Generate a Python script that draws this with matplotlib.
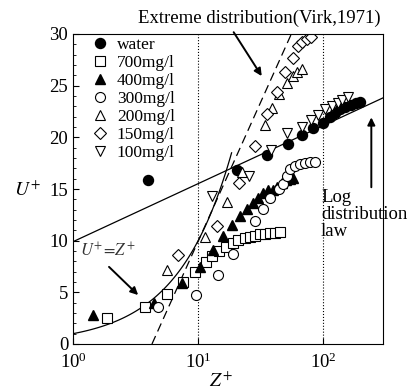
import numpy as np
import matplotlib
matplotlib.use('Agg')
import matplotlib.pyplot as plt
from matplotlib.ticker import MultipleLocator, NullLocator, LogLocator

plt.rcParams['font.family'] = ['Liberation Serif', 'DejaVu Serif']
plt.rcParams['mathtext.fontset'] = 'stix'
plt.rcParams['font.size'] = 13

# data
water_z = [4.0, 20.5, 35.7, 52, 68, 83, 100, 113, 124, 136, 150, 165, 181, 198]
water_u = [15.9, 16.8, 18.3, 19.4, 20.2, 20.9, 21.4, 22.0, 22.4, 22.7, 22.9, 23.1, 23.3, 23.4]

c700_z = [1.87, 3.77, 5.65, 7.6, 9.5, 11.5, 13.0, 14.8, 16.6, 19, 21, 23.5, 26, 28.5, 31, 34, 37.5, 41, 45]
c700_u = [2.5, 3.6, 4.8, 6.0, 7.0, 7.9, 8.5, 9.0, 9.4, 9.8, 10.1, 10.3, 10.4, 10.5, 10.6, 10.6, 10.7, 10.7, 10.8]

c400_z = [1.45, 4.4, 7.4, 10.4, 13.2, 15.9, 18.8, 21.7, 24.6, 27.3, 30, 33, 36, 39.5, 43, 46.5, 50, 54, 57]
c400_u = [2.8, 4.0, 5.9, 7.5, 9.1, 10.5, 11.5, 12.4, 13.1, 13.6, 14.1, 14.6, 14.9, 14.9, 15.2, 15.6, 15.9, 16.0, 16.1]

c300_z = [4.8, 9.6, 14.5, 19.1, 28.5, 33, 37.7, 44, 48, 51, 54.5, 59.5, 65, 71.6, 78, 86]
c300_u = [3.6, 4.7, 6.7, 8.7, 11.9, 13.1, 14.1, 15.0, 15.5, 16.3, 16.9, 17.2, 17.4, 17.5, 17.6, 17.6]

c200_z = [5.65, 11.4, 17.1, 22.5, 34, 39, 44, 51, 57, 62, 68]
c200_u = [7.2, 10.4, 13.7, 16.6, 21.2, 22.8, 24.2, 25.3, 25.9, 26.3, 26.6]

c150_z = [6.9, 14.1, 21.3, 28.5, 35.5, 43, 49.5, 57, 63, 68, 74, 80]
c150_u = [8.6, 11.4, 15.6, 19.2, 22.3, 24.4, 26.3, 27.7, 28.8, 29.2, 29.5, 29.7]

c100_z = [12.9, 25.5, 38, 51.5, 67, 80, 91, 103, 118, 130, 142, 158]
c100_u = [14.3, 16.3, 18.8, 20.4, 21.0, 21.7, 22.2, 22.7, 23.0, 23.3, 23.6, 23.9]

# reference laws
log_a, log_b = 2.44, 9.9        # log distribution law
virk_a, virk_b = 11.7, -17.0    # Virk 1971

fig = plt.figure(figsize=(4.15, 3.92), dpi=100)
ax = fig.add_axes([73/415, 1-344/392, 310/415, 310/392])

z = np.logspace(0, np.log10(300), 200)
ax.plot(z, log_a*np.log(z) + log_b, color='k', lw=0.9)
zl = np.logspace(0, np.log10(18.5), 100)
ax.plot(zl, zl, color='k', lw=0.9)
zv = np.logspace(np.log10(np.exp(-virk_b/virk_a)), np.log10(np.exp((30-virk_b)/virk_a)), 50)
ax.plot(zv, virk_a*np.log(zv) + virk_b, color='k', lw=0.9, ls=(0, (7, 4)))
ax.axvline(10, color='k', lw=0.8, ls=':')
ax.axvline(100, color='k', lw=0.8, ls=':')

ms = 7.2
ax.plot(water_z, water_u, 'o', color='k', ms=ms, label='water')
ax.plot(c700_z, c700_u, 's', mfc='white', mec='k', mew=0.8, ms=ms*0.95, label='700mg/l')
ax.plot(c400_z, c400_u, '^', color='k', ms=ms, label='400mg/l')
ax.plot(c300_z, c300_u, 'o', mfc='white', mec='k', mew=0.8, ms=ms, label='300mg/l')
ax.plot(c200_z, c200_u, '^', mfc='white', mec='k', mew=0.8, ms=ms, label='200mg/l')
ax.plot(c150_z, c150_u, 'D', mfc='white', mec='k', mew=0.8, ms=ms*0.8, label='150mg/l')
ax.plot(c100_z, c100_u, 'v', mfc='white', mec='k', mew=0.8, ms=ms, label='100mg/l')

ax.set_xscale('log')
ax.set_xlim(1, 300)
ax.set_ylim(0, 30)
ax.xaxis.set_major_locator(LogLocator(base=10, numticks=5))
ax.xaxis.set_minor_locator(NullLocator())
ax.yaxis.set_major_locator(MultipleLocator(5))
ax.yaxis.set_minor_locator(MultipleLocator(1))
ax.tick_params(which='both', direction='in', top=False, right=False)
ax.tick_params(which='major', length=4, labelsize=13.5)
ax.tick_params(axis='x', pad=6)
ax.tick_params(which='minor', length=2)
for s in ax.spines.values():
    s.set_linewidth(0.8)

ax.legend(loc='upper left', bbox_to_anchor=(0.06, 0.99), frameon=False, fontsize=12.5,
          handlelength=1.0, handletextpad=0.45, labelspacing=0.1,
          borderaxespad=0, borderpad=0)

fig.text(27/415, 1-190/392, '$U^{+}$', ha='center', va='center', fontsize=14)
fig.text(221/415, 1-381/392, '$Z^{+}$', ha='center', va='center', fontsize=14)

ap = dict(arrowstyle='-|>', color='k', lw=1.4, mutation_scale=11)
ax.annotate('', xy=(33.1, 25.7), xytext=(18.7, 30.4), arrowprops=ap, annotation_clip=False)
fig.text(259/415, 1-18/392, 'Extreme distribution(Virk,1971)', ha='center', va='center', fontsize=13.5)
ax.annotate('', xy=(3.44, 4.55), xytext=(1.87, 7.65), arrowprops=ap)
ax.text(1.9, 9.0, '$U^{+}\\!=\\!Z^{+}$', ha='center', va='center', color='#333333', fontsize=12)
ax.annotate('', xy=(242, 22.2), xytext=(242, 14.9), arrowprops=ap)
ax.text(96, 15.0, 'Log\ndistribution\nlaw', ha='left', va='top', linespacing=1.0, fontsize=13.5)

fig.savefig('out.png', dpi=100)
